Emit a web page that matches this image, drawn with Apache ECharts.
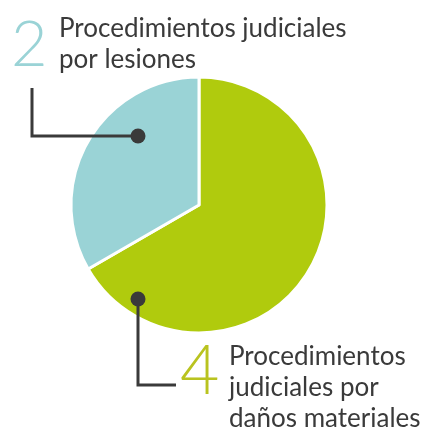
<!DOCTYPE html>
<html>
<head>
<meta charset="utf-8">
<script src="https://cdn.jsdelivr.net/npm/echarts@6/dist/echarts.min.js"></script>
<style>
  html, body { margin: 0; padding: 0; background: #fff; }
  #chart { width: 428px; height: 432px; }
</style>
</head>
<body>
<div id="chart"></div>
<script>
// data
const categories = ['Procedimientos judiciales por daños materiales', 'Procedimientos judiciales por lesiones']
const values = [4, 2]
const colors = ['#b0cb0d', '#9ad3d6']
const numberColors = ['#b9c31f', '#9ad3d6']

const chart = echarts.init(document.getElementById('chart'))
const font = 'Lato'
const ink = '#3a3a3a'

const option = {
  backgroundColor: '#fff',
  animation: false,
  series: [
    {
      type: 'pie',
      center: [199, 205],
      radius: 128,
      startAngle: 90,
      clockwise: true,
      label: { show: false },
      labelLine: { show: false },
      itemStyle: { borderColor: '#fff', borderWidth: 3 },
      data: categories.map((name, i) => ({
        name,
        value: values[i],
        itemStyle: { color: colors[i] },
      })),
    },
  ],
  graphic: [
    // leader for "lesiones"
    {
      type: 'polyline',
      z: 100,
      shape: { points: [[138, 136], [32, 136], [32, 88]] },
      style: { stroke: ink, lineWidth: 3, fill: null },
    },
    { type: 'circle', z: 101, shape: { cx: 138, cy: 136, r: 7.5 }, style: { fill: ink } },
    // leader for "daños materiales"
    {
      type: 'polyline',
      z: 100,
      shape: { points: [[138, 299], [138, 385], [176, 385]] },
      style: { stroke: ink, lineWidth: 3, fill: null },
    },
    { type: 'circle', z: 101, shape: { cx: 138, cy: 299, r: 7.5 }, style: { fill: ink } },
    // labels
    {
      type: 'text',
      z: 100,
      left: 11,
      top: 14,
      style: {
        text: String(values[1]),
        fill: numberColors[1],
        font: '300 63px ' + font,
      },
    },
    {
      type: 'text',
      z: 100,
      left: 59,
      top: 13,
      style: {
        text: 'Procedimientos judiciales\npor lesiones',
        fill: ink,
        font: '400 26px ' + font,
        lineHeight: 31,
      },
    },
    {
      type: 'text',
      z: 100,
      left: 180,
      top: 338,
      style: {
        text: String(values[0]),
        fill: numberColors[0],
        font: '300 68px ' + font,
      },
    },
    {
      type: 'text',
      z: 100,
      left: 229,
      top: 341,
      style: {
        text: 'Procedimientos\njudiciales por\ndaños materiales',
        fill: ink,
        font: '400 26px ' + font,
        lineHeight: 31,
      },
    },
  ],
}

chart.setOption(option)
</script>
</body>
</html>
